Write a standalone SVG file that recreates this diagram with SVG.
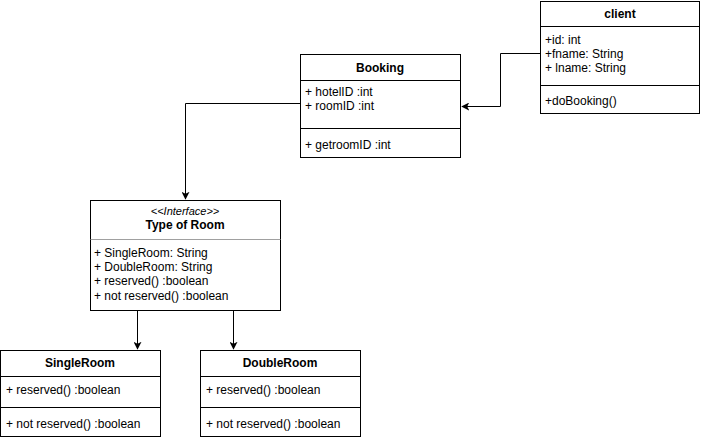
<svg xmlns="http://www.w3.org/2000/svg" width="701" height="440" viewBox="0 0 701 440">
<defs>
<style>
.box{fill:#fff;stroke:#000;stroke-width:1}
.sep{stroke:#000;stroke-width:1}
.gsep{stroke:#a0a0a0;stroke-width:1}
text{font-family:"Liberation Sans",Arial,sans-serif;font-size:12px;fill:#000}
.t{font-weight:bold;text-anchor:middle}
.it{font-style:italic;text-anchor:middle;font-size:11px}
.edge{fill:none;stroke:#000;stroke-width:1}
</style>
<marker id="arr" viewBox="0 0 10 10" refX="9" refY="5" markerWidth="8" markerHeight="8" markerUnits="userSpaceOnUse" orient="auto">
<path d="M0,0 L10,5 L0,10 L2.5,5 Z" fill="#000"/>
</marker>
</defs>
<rect width="701" height="440" fill="#fff"/>
<g id="connectors">
<path class="edge" d="M540.5,53.5 H500.5 V106.5 H462" marker-end="url(#arr)"/>
<path class="edge" d="M300.5,103.5 H185.5 V199" marker-end="url(#arr)"/>
<path class="edge" d="M137.5,310.5 V349" marker-end="url(#arr)"/>
<path class="edge" d="M233.5,310.5 V349" marker-end="url(#arr)"/>
</g>
<g id="client">
<rect class="box" x="540.5" y="1.5" width="159" height="112"/>
<line class="sep" x1="540.5" y1="26.5" x2="699.5" y2="26.5"/>
<line class="sep" x1="540.5" y1="85.5" x2="699.5" y2="85.5"/>
<text class="t" x="620" y="18">client</text>
<text x="545" y="44">+id: int</text>
<text x="545" y="58">+fname: String</text>
<text x="545" y="72">+ lname: String</text>
<text x="545" y="105">+doBooking()</text>
</g>
<g id="booking">
<rect class="box" x="300.5" y="54.5" width="160" height="103"/>
<line class="sep" x1="300.5" y1="80.5" x2="460.5" y2="80.5"/>
<line class="sep" x1="300.5" y1="128.5" x2="460.5" y2="128.5"/>
<text class="t" x="380" y="72">Booking</text>
<text x="305" y="96">+ hotelID :int</text>
<text x="305" y="110">+ roomID :int</text>
<text x="305" y="149">+ getroomID :int</text>
</g>
<g id="typeofroom">
<rect class="box" x="90.5" y="200.5" width="190" height="110"/>
<line class="gsep" x1="90.5" y1="239.5" x2="280.5" y2="239.5"/>
<text class="it" x="185" y="215">&lt;&lt;Interface&gt;&gt;</text>
<text class="t" x="185" y="229">Type of Room</text>
<text x="94" y="257">+ SingleRoom: String</text>
<text x="94" y="271">+ DoubleRoom: String</text>
<text x="94" y="285">+ reserved() :boolean</text>
<text x="94" y="300">+ not reserved() :boolean</text>
</g>
<g id="singleroom">
<rect class="box" x="0.5" y="350.5" width="160" height="86"/>
<line class="sep" x1="0.5" y1="376.5" x2="160.5" y2="376.5"/>
<line class="sep" x1="0.5" y1="407.5" x2="160.5" y2="407.5"/>
<text class="t" x="80" y="367">SingleRoom</text>
<text x="6" y="394">+ reserved() :boolean</text>
<text x="6" y="428">+ not reserved() :boolean</text>
</g>
<g id="doubleroom">
<rect class="box" x="200.5" y="350.5" width="160" height="86"/>
<line class="sep" x1="200.5" y1="376.5" x2="360.5" y2="376.5"/>
<line class="sep" x1="200.5" y1="407.5" x2="360.5" y2="407.5"/>
<text class="t" x="280" y="367">DoubleRoom</text>
<text x="206" y="394">+ reserved() :boolean</text>
<text x="206" y="428">+ not reserved() :boolean</text>
</g>
</svg>
